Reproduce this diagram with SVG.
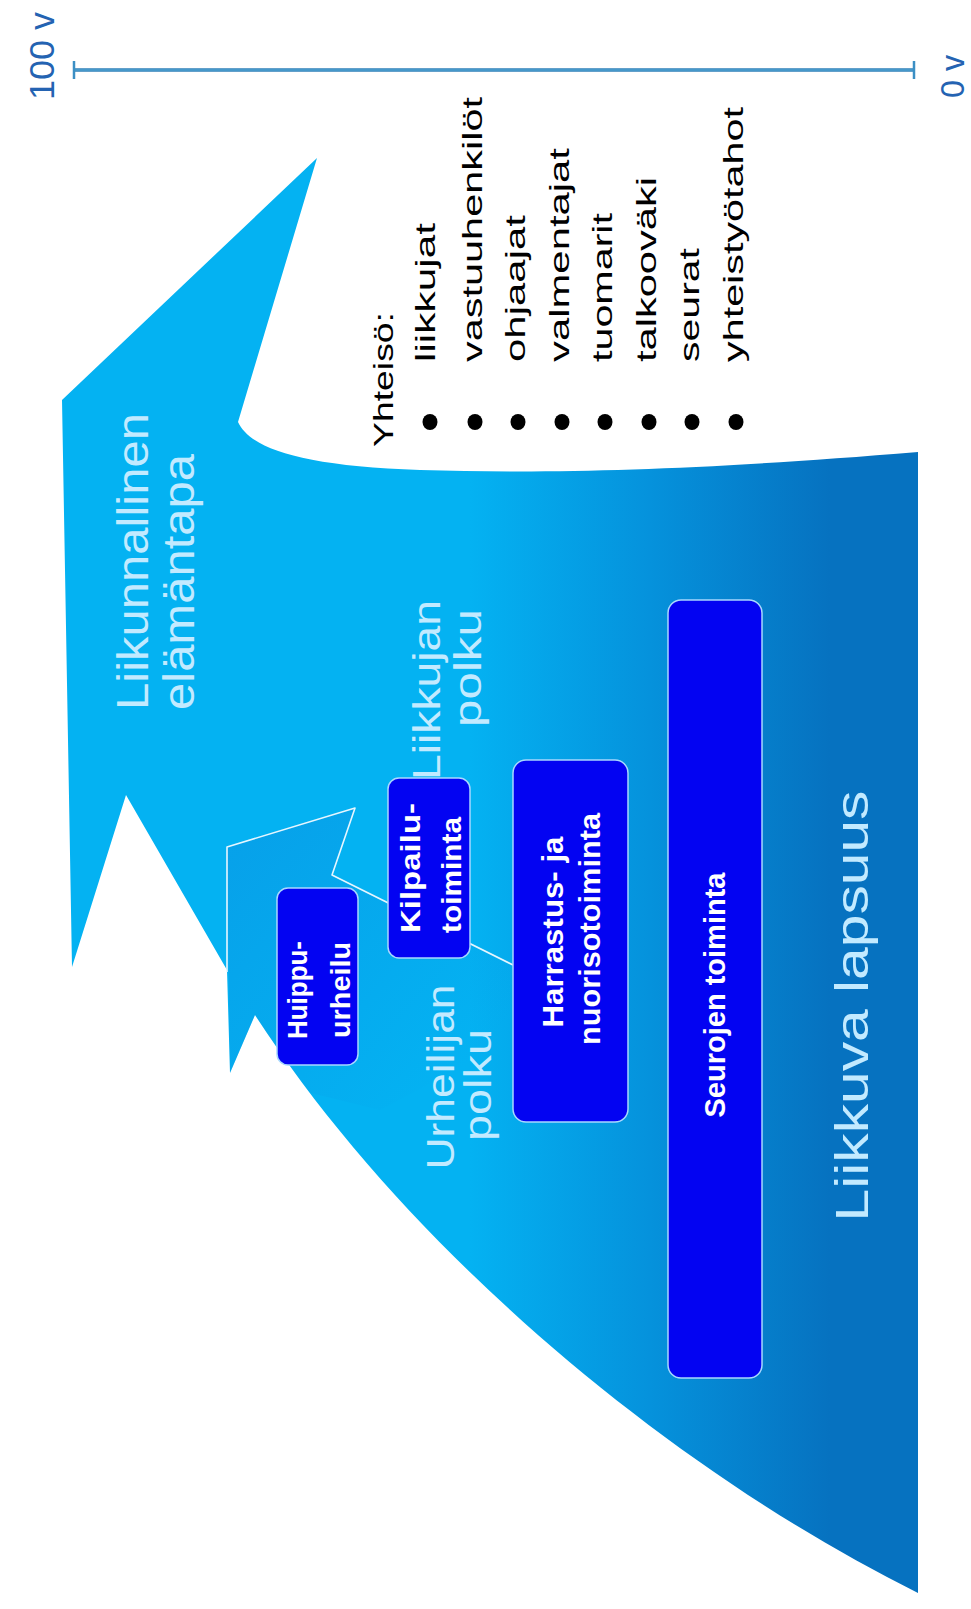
<svg xmlns="http://www.w3.org/2000/svg" width="971" height="1609" viewBox="0 0 971 1609">
<defs>
<linearGradient id="bigGrad" gradientUnits="userSpaceOnUse" x1="470" y1="0" x2="830" y2="0">
<stop offset="0" stop-color="#04b2f2"/>
<stop offset="0.5" stop-color="#0592dc"/>
<stop offset="1" stop-color="#0672c0"/>
</linearGradient>
<linearGradient id="tipGrad" gradientUnits="userSpaceOnUse" x1="240" y1="850" x2="470" y2="1060">
<stop offset="0" stop-color="#0a8ee0" stop-opacity="0.45"/>
<stop offset="1" stop-color="#0a8ee0" stop-opacity="0"/>
</linearGradient>
<clipPath id="bigClip">
<path d="M317,158 L238,422 C250,448 300,466 420,470 C560,474 700,470 918,452 L918,1593 C667,1468 405,1247 255,1015 L230,1073 L227,970 L126,795 L72,967 L62,400 Z"/>
</clipPath>
</defs>
<style>
.box{fill:#0303f2;stroke:#a8d8ff;stroke-width:1.5}
.bt{font-family:"Liberation Sans",Arial,sans-serif;font-weight:bold;fill:#ffffff;text-anchor:middle}
.big{font-family:"Liberation Sans",Arial,sans-serif;fill:#c2eaff}
.li{font-family:"Liberation Sans",Arial,sans-serif;font-size:28px;fill:#000000}
.ax{font-family:"Liberation Sans",Arial,sans-serif;fill:#2463b2}
</style>
<rect width="971" height="1609" fill="#ffffff"/>

<g id="axis">
<line x1="74" y1="70" x2="914" y2="70" stroke="#2f80b8" stroke-width="3.5"/>
<line x1="74" y1="70" x2="914" y2="70" stroke="#5fb0dc" stroke-width="1.2"/>
<line x1="74" y1="61" x2="74" y2="79" stroke="#3b8fc4" stroke-width="2.5"/>
<line x1="914" y1="61" x2="914" y2="79" stroke="#3b8fc4" stroke-width="2.5"/>
<text class="ax" font-size="35" transform="translate(54,100) rotate(-90)" textLength="88" lengthAdjust="spacingAndGlyphs">100 v</text>
<text class="ax" font-size="33" transform="translate(964,98) rotate(-90)" textLength="43" lengthAdjust="spacingAndGlyphs">0 v</text>
</g>

<g id="big-arrow">
<path d="M317,158 L238,422 C250,448 300,466 420,470 C560,474 700,470 918,452 L918,1593 C667,1468 405,1247 255,1015 L230,1073 L227,970 L126,795 L72,967 L62,400 Z" fill="url(#bigGrad)"/>
<path clip-path="url(#bigClip)" d="M227,847 L355,808 L332,875 L513,965 L513,1040 L380,1110 L230,1073 Z" fill="url(#tipGrad)"/>
<text class="big" font-size="44" transform="translate(148,710) rotate(-90)" textLength="297" lengthAdjust="spacingAndGlyphs">Liikunnallinen</text>
<text class="big" font-size="44" transform="translate(194,710) rotate(-90)" textLength="256" lengthAdjust="spacingAndGlyphs">elämäntapa</text>
<text class="big" font-size="38" text-anchor="middle" transform="translate(440,690) rotate(-90)" textLength="180" lengthAdjust="spacingAndGlyphs">Liikkujan</text>
<text class="big" font-size="38" text-anchor="middle" transform="translate(481,668) rotate(-90)" textLength="118" lengthAdjust="spacingAndGlyphs">polku</text>
<text class="big" font-size="38" text-anchor="middle" transform="translate(454,1077) rotate(-90)" textLength="185" lengthAdjust="spacingAndGlyphs">Urheilijan</text>
<text class="big" font-size="38" text-anchor="middle" transform="translate(491,1085) rotate(-90)" textLength="112" lengthAdjust="spacingAndGlyphs">polku</text>
<text class="big" font-size="46" text-anchor="middle" transform="translate(868,1006) rotate(-90)" textLength="431" lengthAdjust="spacingAndGlyphs">Liikkuva lapsuus</text>
</g>

<g id="connectors">
<path d="M227,972 L227,847 L355,808 L332,875 L513,965" fill="none" stroke="#e6f6ff" stroke-width="1.6" stroke-linejoin="round"/>
</g>

<g id="node-huippu">
<rect class="box" x="277" y="888" width="81" height="177" rx="11"/>
<text class="bt" font-size="27" transform="translate(307,990) rotate(-90)" textLength="98" lengthAdjust="spacingAndGlyphs">Huippu-</text>
<text class="bt" font-size="27" transform="translate(350,990) rotate(-90)" textLength="96" lengthAdjust="spacingAndGlyphs">urheilu</text>
</g>

<g id="node-kilpailu">
<rect class="box" x="388" y="778" width="82" height="180" rx="11"/>
<text class="bt" font-size="27" transform="translate(420,868) rotate(-90)" textLength="130" lengthAdjust="spacingAndGlyphs">Kilpailu-</text>
<text class="bt" font-size="27" transform="translate(461,875) rotate(-90)" textLength="116" lengthAdjust="spacingAndGlyphs">toiminta</text>
</g>

<g id="node-harrastus">
<rect class="box" x="513" y="760" width="115" height="362" rx="13"/>
<text class="bt" font-size="30" transform="translate(563,932) rotate(-90)" textLength="191" lengthAdjust="spacingAndGlyphs">Harrastus- ja</text>
<text class="bt" font-size="30" transform="translate(600,929) rotate(-90)" textLength="232" lengthAdjust="spacingAndGlyphs">nuorisotoiminta</text>
</g>

<g id="node-seurojen">
<rect class="box" x="668" y="600" width="94" height="778" rx="13"/>
<text class="bt" font-size="29" transform="translate(725,995) rotate(-90)" textLength="245" lengthAdjust="spacingAndGlyphs">Seurojen toiminta</text>
</g>

<g id="yhteiso">
<text class="li" transform="translate(393,447) rotate(-90)" textLength="135" lengthAdjust="spacingAndGlyphs">Yhteisö:</text>
<g fill="#000000">
<ellipse cx="430" cy="422" rx="7.5" ry="8"/>
<ellipse cx="475" cy="422" rx="7.5" ry="8"/>
<ellipse cx="518" cy="422" rx="7.5" ry="8"/>
<ellipse cx="562" cy="422" rx="7.5" ry="8"/>
<ellipse cx="605" cy="422" rx="7.5" ry="8"/>
<ellipse cx="649" cy="422" rx="7.5" ry="8"/>
<ellipse cx="692" cy="422" rx="7.5" ry="8"/>
<ellipse cx="736" cy="422" rx="7.5" ry="8"/>
</g>
<text class="li" transform="translate(435,362) rotate(-90)" textLength="139" lengthAdjust="spacingAndGlyphs">liikkujat</text>
<text class="li" transform="translate(482,362) rotate(-90)" textLength="265" lengthAdjust="spacingAndGlyphs">vastuuhenkilöt</text>
<text class="li" transform="translate(525,362) rotate(-90)" textLength="147" lengthAdjust="spacingAndGlyphs">ohjaajat</text>
<text class="li" transform="translate(569,362) rotate(-90)" textLength="214" lengthAdjust="spacingAndGlyphs">valmentajat</text>
<text class="li" transform="translate(612,362) rotate(-90)" textLength="149" lengthAdjust="spacingAndGlyphs">tuomarit</text>
<text class="li" transform="translate(656,362) rotate(-90)" textLength="185" lengthAdjust="spacingAndGlyphs">talkooväki</text>
<text class="li" transform="translate(699,362) rotate(-90)" textLength="114" lengthAdjust="spacingAndGlyphs">seurat</text>
<text class="li" transform="translate(743,362) rotate(-90)" textLength="255" lengthAdjust="spacingAndGlyphs">yhteistyötahot</text>
</g>
</svg>
